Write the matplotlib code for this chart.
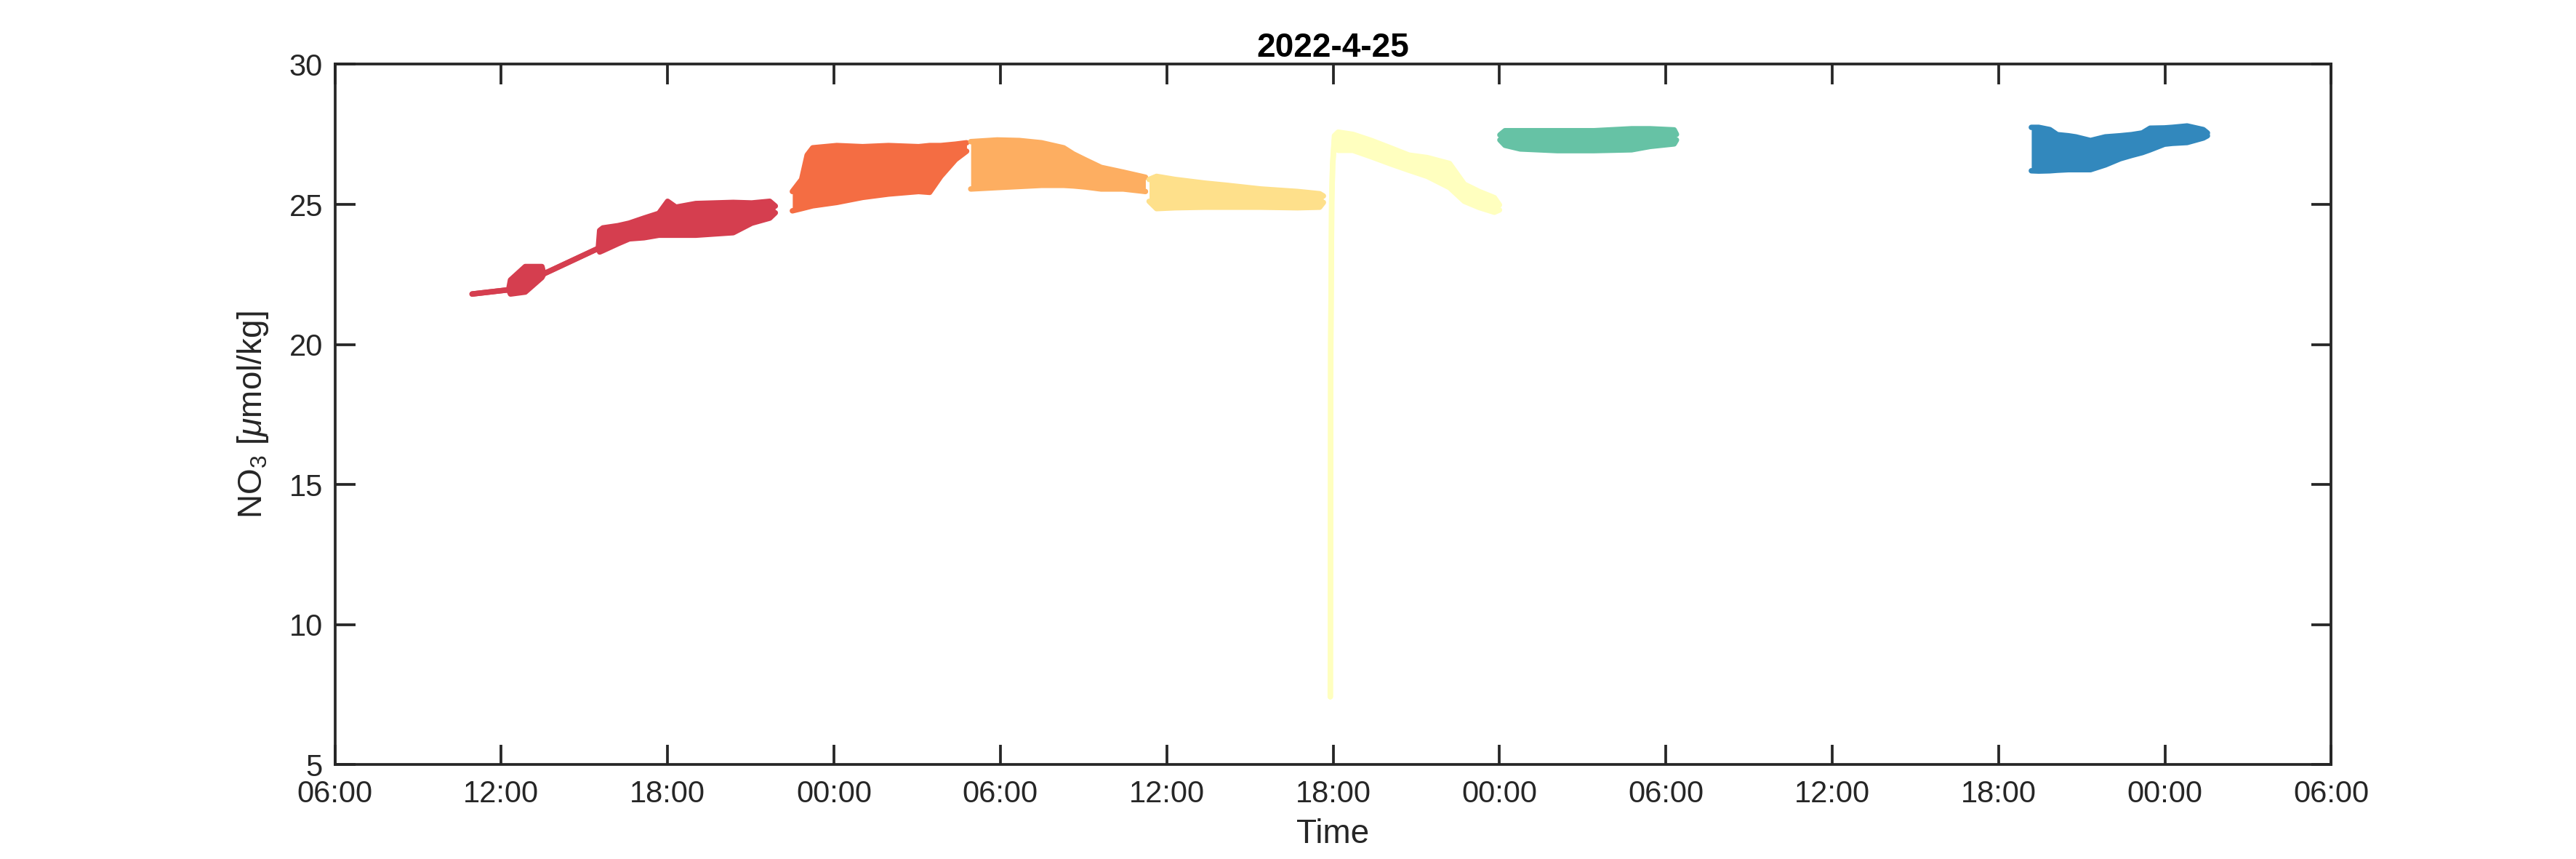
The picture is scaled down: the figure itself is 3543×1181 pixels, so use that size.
import numpy as np
import pandas as pd
import matplotlib
matplotlib.use('Agg')
import matplotlib.pyplot as plt
import matplotlib.dates as mdates

plt.rcParams['font.family'] = ['Liberation Sans', 'DejaVu Sans']
plt.rcParams['mathtext.fontset'] = 'custom'
plt.rcParams['mathtext.rm'] = 'Liberation Sans'
plt.rcParams['mathtext.it'] = 'Liberation Sans:italic'

# each deployment: sample times, lower / upper edge of the scatter of NO3 [umol/kg]
t1 = ['2022-04-25 10:57', '2022-04-25 12:16', '2022-04-25 12:20', '2022-04-25 12:52',
      '2022-04-25 13:28', '2022-04-25 13:32', '2022-04-25 15:30', '2022-04-25 15:33',
      '2022-04-25 15:40', '2022-04-25 16:13', '2022-04-25 16:37', '2022-04-25 17:09',
      '2022-04-25 17:41', '2022-04-25 18:00', '2022-04-25 18:18', '2022-04-25 19:01',
      '2022-04-25 20:22', '2022-04-25 21:02', '2022-04-25 21:41', '2022-04-25 21:53']
lo1 = [21.8, 21.95, 21.8, 21.87, 22.39, 22.52, 23.43, 23.3, 23.35, 23.6,
       23.77, 23.81, 23.9, 23.9, 23.9, 23.9, 23.99, 24.33, 24.51, 24.7]
hi1 = [21.8, 21.95, 22.3, 22.78, 22.78, 22.52, 23.43, 24.07, 24.16, 24.24,
       24.33, 24.51, 24.68, 25.11, 24.9, 25.03, 25.07, 25.05, 25.11, 24.94]

t2 = ['2022-04-25 22:30', '2022-04-25 22:50', '2022-04-25 23:02', '2022-04-25 23:14',
      '2022-04-26 00:06', '2022-04-26 01:02', '2022-04-26 01:58', '2022-04-26 03:03',
      '2022-04-26 03:27', '2022-04-26 03:51', '2022-04-26 04:23', '2022-04-26 04:47']
lo2 = [24.77, 24.85, 24.9, 24.95, 25.07, 25.25, 25.37, 25.46, 25.43, 26.0, 26.6, 26.9]
hi2 = [25.46, 25.89, 26.76, 27.02, 27.1, 27.06, 27.1, 27.06, 27.1, 27.1, 27.15, 27.2]

t3 = ['2022-04-26 04:56', '2022-04-26 05:53', '2022-04-26 06:41', '2022-04-26 07:29',
      '2022-04-26 08:17', '2022-04-26 08:38', '2022-04-26 09:05', '2022-04-26 09:38',
      '2022-04-26 10:26', '2022-04-26 11:14']
lo3 = [25.55, 25.6, 25.64, 25.68, 25.68, 25.66, 25.62, 25.55, 25.55, 25.46]
hi3 = [27.24, 27.3, 27.28, 27.2, 27.02, 26.8, 26.58, 26.32, 26.15, 25.97]

t4 = ['2022-04-26 11:22', '2022-04-26 11:38', '2022-04-26 12:18', '2022-04-26 13:22',
      '2022-04-26 14:11', '2022-04-26 15:23', '2022-04-26 16:43', '2022-04-26 17:31',
      '2022-04-26 17:39']
lo4 = [25.11, 24.85, 24.88, 24.9, 24.9, 24.9, 24.88, 24.9, 25.07]
hi4 = [25.89, 26.0, 25.89, 25.76, 25.68, 25.55, 25.46, 25.38, 25.3]

t5 = ['2022-04-26 17:54', '2022-04-26 17:55', '2022-04-26 17:57', '2022-04-26 17:59',
      '2022-04-26 18:03', '2022-04-26 18:11', '2022-04-26 18:43', '2022-04-26 19:23',
      '2022-04-26 20:04', '2022-04-26 20:44', '2022-04-26 21:24', '2022-04-26 22:12',
      '2022-04-26 22:44', '2022-04-26 23:16', '2022-04-26 23:49', '2022-04-27 00:00']
lo5 = [7.42, 20.0, 25.1, 26.4, 27.3, 26.93, 26.93, 26.7, 26.45, 26.22, 26.0, 25.6,
       25.11, 24.89, 24.72, 24.8]
hi5 = [7.42, 20.0, 25.1, 26.4, 27.45, 27.58, 27.5, 27.28, 27.02, 26.76, 26.67, 26.46,
       25.72, 25.46, 25.24, 24.98]

t6 = ['2022-04-27 00:01', '2022-04-27 00:12', '2022-04-27 00:45', '2022-04-27 02:05',
      '2022-04-27 03:25', '2022-04-27 04:46', '2022-04-27 05:26', '2022-04-27 06:18',
      '2022-04-27 06:23']
lo6 = [27.3, 27.11, 26.98, 26.92, 26.92, 26.95, 27.07, 27.16, 27.3]
hi6 = [27.48, 27.63, 27.63, 27.63, 27.63, 27.7, 27.7, 27.66, 27.5]

t7 = ['2022-04-27 19:11', '2022-04-27 19:27', '2022-04-27 19:51', '2022-04-27 20:07',
      '2022-04-27 20:31', '2022-04-27 20:47', '2022-04-27 21:19', '2022-04-27 21:51',
      '2022-04-27 22:23', '2022-04-27 22:48', '2022-04-27 23:11', '2022-04-27 23:28',
      '2022-04-27 23:59', '2022-04-28 00:16', '2022-04-28 00:48', '2022-04-28 01:23',
      '2022-04-28 01:32']
lo7 = [26.2, 26.19, 26.2, 26.22, 26.24, 26.24, 26.24, 26.41, 26.63, 26.75, 26.85,
       26.95, 27.15, 27.18, 27.21, 27.37, 27.45]
hi7 = [27.75, 27.75, 27.67, 27.49, 27.45, 27.41, 27.28, 27.41, 27.45, 27.49, 27.55,
       27.72, 27.73, 27.75, 27.8, 27.67, 27.55]

segments = [(t1, lo1, hi1), (t2, lo2, hi2), (t3, lo3, hi3), (t4, lo4, hi4),
            (t5, lo5, hi5), (t6, lo6, hi6), (t7, lo7, hi7)]
colors = ['#D53E4F', '#F46D43', '#FDAE61', '#FEE08B', '#FFFFBF', '#66C2A5', '#3288BD']

fig = plt.figure(figsize=(11.81, 3.937), dpi=300)
ax = fig.add_axes([0.13, 0.11, 0.775, 0.815])

for (t, lo, hi), c in zip(segments, colors):
    tt = pd.to_datetime(t).to_numpy()
    ax.fill_between(tt, lo, hi, color=c, lw=0)
    ax.plot(tt, lo, color=c, lw=1.8, solid_joinstyle='round', solid_capstyle='round')
    ax.plot(tt, hi, color=c, lw=1.8, solid_joinstyle='round', solid_capstyle='round')

ax.set_xlim(pd.Timestamp('2022-04-25 06:00'), pd.Timestamp('2022-04-28 06:00'))
ax.set_ylim(5, 30)
ax.set_yticks([5, 10, 15, 20, 25, 30])
ax.xaxis.set_major_locator(mdates.HourLocator(byhour=[0, 6, 12, 18]))
ax.xaxis.set_major_formatter(mdates.DateFormatter('%H:%M'))

axcol = '#262626'
for s in ax.spines.values():
    s.set_linewidth(0.9)
    s.set_color(axcol)
ax.tick_params(direction='in', top=True, right=True, length=6.6, width=0.9,
               colors=axcol, labelsize=10, labelcolor='#262626')
ax.tick_params(axis='x', pad=5)
ax.tick_params(axis='y', pad=4)

ax.set_xlabel('Time', fontsize=11, color='#262626', labelpad=3)
ax.set_ylabel('NO$_3$ [$\\mu$mol/kg]', fontsize=11, color='#262626', labelpad=6)
ax.set_title('2022-4-25', fontsize=11, fontweight='bold', pad=2.5)

fig.savefig('out.png', dpi=300)
